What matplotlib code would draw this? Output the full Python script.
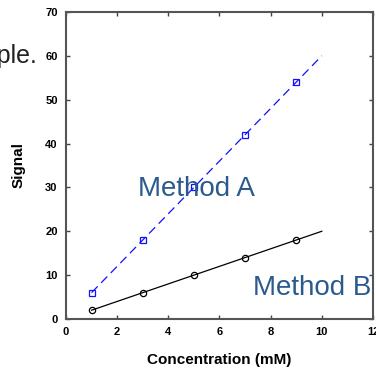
import matplotlib
matplotlib.use("Agg")
import matplotlib.pyplot as plt

# data
conc = [1, 3, 5, 7, 9]
signal_a = [6, 18, 30, 42, 54]
signal_b = [2, 6, 10, 14, 18]
fit_x = [1, 10]
fit_a = [6, 60]
fit_b = [2, 20]
xticks = [0, 2, 4, 6, 8, 10, 12]
yticks = [0, 10, 20, 30, 40, 50, 60, 70]

plt.rcParams["font.family"] = ["Liberation Sans", "DejaVu Sans"]

fig = plt.figure(figsize=(3.76, 3.72), dpi=100)
ax = fig.add_axes([0.1755, 0.1425, 0.8165, 0.8255])

ax.plot(fit_x, fit_a, color="#1010ff", lw=0.9, dashes=(7, 4))
ax.plot(conc, signal_a, ls="none", marker="s", ms=4.5, mfc="none", mec="#1010ff", mew=0.9)
ax.plot(fit_x, fit_b, color="black", lw=0.9)
ax.plot(conc, signal_b, ls="none", marker="o", ms=4.5, mfc="none", mec="black", mew=0.9)

ax.set_xlim(0, 12)
ax.set_ylim(0, 70)
ax.set_xticks(xticks)
ax.set_yticks(yticks)
ax.tick_params(direction="in", top=True, right=True, length=3, width=1,
               labelsize=8, color="#444444", pad=6)
for lab in ax.get_xticklabels() + ax.get_yticklabels():
    lab.set_fontweight("bold")
for s in ax.spines.values():
    s.set_color("#555555")
    s.set_linewidth(1.5)

ax.set_xlabel("Concentration (mM)", fontsize=11, fontweight="bold", labelpad=11)
ax.set_ylabel("Signal", fontsize=11, fontweight="bold", labelpad=14)

ax.text(2.8, 29.6, "Method A", fontsize=20, color="#2b5a8c", va="center", ha="left")
ax.text(7.3, 7.1, "Method B", fontsize=20, color="#2b5a8c", va="center", ha="left")
fig.text(37 / 376, 1 - 56 / 372, "Example.", fontsize=18, color="#222222",
         ha="right", va="center")

fig.savefig("out.png", dpi=100)
